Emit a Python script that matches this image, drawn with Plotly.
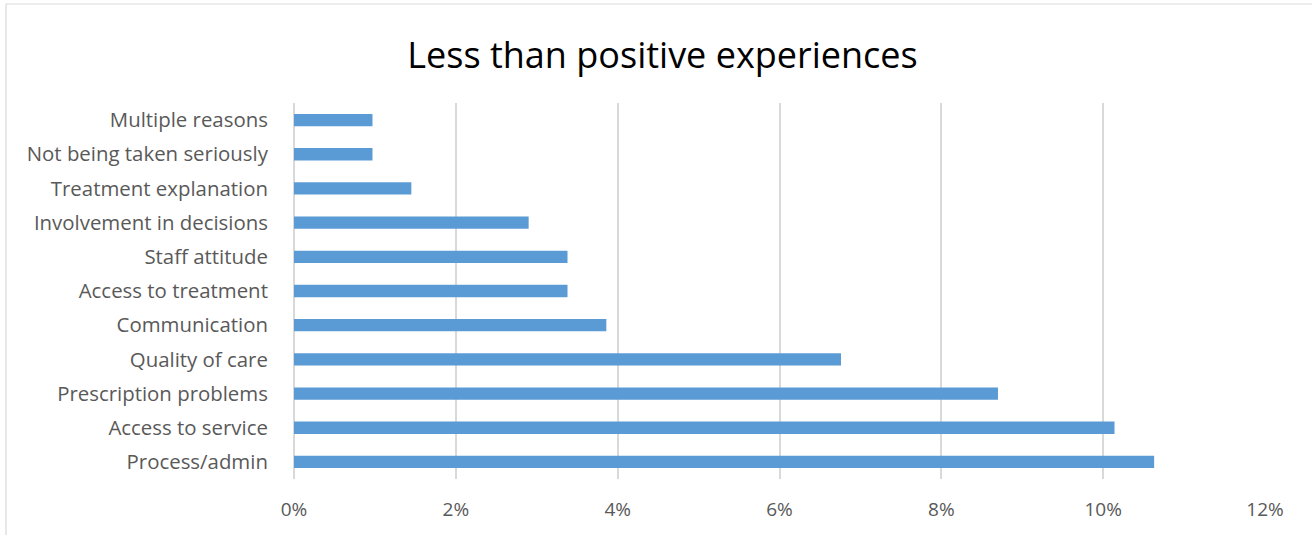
import plotly.graph_objects as go

categories = ["Process/admin", "Access to service", "Prescription problems", "Quality of care",
              "Communication", "Access to treatment", "Staff attitude", "Involvement in decisions",
              "Treatment explanation", "Not being taken seriously", "Multiple reasons"]
values = [0.1063, 0.1014, 0.0870, 0.0676, 0.0386, 0.0338, 0.0338, 0.0290, 0.0145, 0.0097, 0.0097]
tick_vals = [0, 0.02, 0.04, 0.06, 0.08, 0.10, 0.12]
tick_text = ["0%", "2%", "4%", "6%", "8%", "10%", "12%"]

W, H = 1312, 535
L, R, T, B = 294, 1265, 103, 479
pw, ph = R - L, B - T

def px(x):
    return (x - L) / pw

def py(y):
    return (B - y) / ph

FONT = "Open Sans"

fig = go.Figure(go.Bar(
    x=values, y=categories, orientation="h",
    marker=dict(color="#5b9bd5", line=dict(width=0)),
    width=0.36,
))

fig.update_layout(
    width=W, height=H,
    margin=dict(l=L, r=W - R, t=T, b=H - B, autoexpand=False),
    paper_bgcolor="white", plot_bgcolor="white",
    showlegend=False,
    title=dict(text="Less than positive experiences", xref="container", x=662.5 / W, xanchor="center",
               yref="container", y=1 - 55 / H, yanchor="middle",
               font=dict(family=FONT, size=36, color="#000000")),
    font=dict(family=FONT, size=19, color="#595959"),
    shapes=[dict(type="rect", xref="paper", yref="paper",
                 x0=px(6), x1=px(1330), y0=py(550), y1=py(4),
                 line=dict(color="#d9d9d9", width=1.2), fillcolor="rgba(0,0,0,0)", layer="below")],
)

fig.update_xaxes(
    range=[0, 0.12], tickvals=tick_vals, ticktext=tick_text,
    showgrid=True, gridcolor="#d9d9d9", gridwidth=2,
    zeroline=True, zerolinecolor="#d9d9d9", zerolinewidth=2,
    showline=False, automargin=False,
    ticks="outside", ticklen=13, tickcolor="rgba(0,0,0,0)",
    tickfont=dict(family=FONT, size=19, color="#595959"),
)
fig.update_yaxes(
    categoryorder="array", categoryarray=categories,
    showgrid=False, showline=False, automargin=False,
    ticks="outside", ticklen=21, tickcolor="rgba(0,0,0,0)",
    tickfont=dict(family=FONT, size=20.4, color="#595959"),
)

fig.write_html("out.html")
